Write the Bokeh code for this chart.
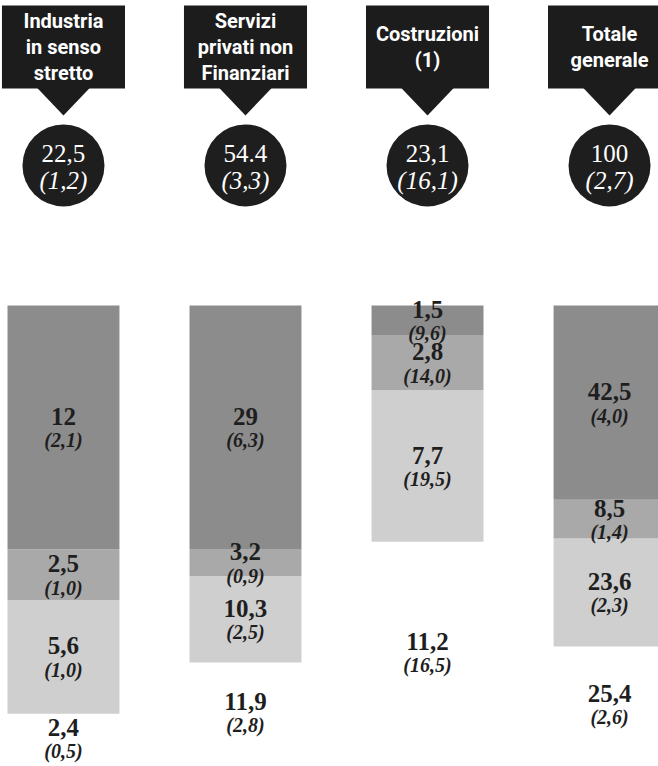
from bokeh.plotting import figure
from bokeh.models import ColumnDataSource, Range1d
from bokeh.embed import file_html
from bokeh.resources import INLINE
from bokeh.core.properties import value

# ---- data ----
categories = ["Industria\nin senso\nstretto", "Servizi\nprivati non\nFinanziari",
              "Costruzioni\n(1)", "Totale\ngenerale"]
total_labels = ["22,5", "54.4", "23,1", "100"]
total_change_labels = ["(1,2)", "(3,3)", "(16,1)", "(2,7)"]

# stacked components, bottom to top
seg1 = [2.4, 11.9, 11.2, 25.4]
chg1 = [0.5, 2.8, 16.5, 2.6]
seg2 = [5.6, 10.3, 7.7, 23.6]
chg2 = [1.0, 2.5, 19.5, 2.3]
seg3 = [2.5, 3.2, 2.8, 8.5]
chg3 = [1.0, 0.9, 14.0, 1.4]
seg4 = [12, 29, 1.5, 42.5]
chg4 = [2.1, 6.3, 9.6, 4.0]

segments = [seg1, seg2, seg3, seg4]
changes = [chg1, chg2, chg3, chg4]
seg_colors = ["#ffffff", "#cfcfcf", "#a9a9a9", "#8c8c8c"]

n = len(categories)
xs = list(range(n))

def fmt_val(v):
    return f"{v:g}".replace(".", ",")

def fmt_chg(v):
    return "(" + f"{v:.1f}".replace(".", ",") + ")"

col_totals = [sum(s[i] for s in segments) for i in range(n)]

W, H = 658, 766
p = figure(width=W, height=H, output_backend="svg", toolbar_location=None,
           x_range=Range1d(-0.346, 3.269), y_range=Range1d(-0.88, 166.74),
           min_border=0, min_border_left=0, min_border_right=0,
           min_border_top=0, min_border_bottom=0)
p.axis.visible = False
p.grid.visible = False
p.outline_line_color = None
p.background_fill_color = "white"
p.border_fill_color = "white"

serif = value("Liberation Serif")
sans = value("Roboto")

# ---- 100% stacked bars (bars first, labels on top) ----
cum = [0.0] * n
sources = []
for seg, chg, col in zip(segments, changes, seg_colors):
    shares = [seg[i] / col_totals[i] * 100 for i in range(n)]
    bottoms = cum[:]
    tops = [bottoms[i] + shares[i] for i in range(n)]
    mids = [(bottoms[i] + tops[i]) / 2 for i in range(n)]
    cum = tops
    src = ColumnDataSource(dict(x=xs, bottom=bottoms, top=tops, mid=mids,
                                vl=[fmt_val(v) for v in seg],
                                cl=[fmt_chg(v) for v in chg]))
    sources.append(src)
    p.vbar(x="x", bottom="bottom", top="top", width=0.615, source=src,
           fill_color=col, line_color=None)

for src in sources:
    p.text(x="x", y="mid", text="vl", source=src, text_font=serif,
           text_font_style="bold", text_font_size="25px", text_color="#1e1e1e",
           text_align="center", text_baseline="middle", y_offset=-11)
    p.text(x="x", y="mid", text="cl", source=src, text_font=serif,
           text_font_style="bold italic", text_font_size="20px", text_color="#1e1e1e",
           text_align="center", text_baseline="middle", y_offset=13)

# ---- header boxes with pointer ----
box_top, box_bottom = 165.65, 147.48
p.rect(x=xs, y=[(box_top + box_bottom) / 2] * n, width=0.676,
       height=box_top - box_bottom, fill_color="#1c1c1c", line_color=None)
tri_x = [[i - 0.148, i + 0.148, i] for i in xs]
tri_y = [[box_bottom + 0.3, box_bottom + 0.3, 141.58] for _ in xs]
p.patches(tri_x, tri_y, fill_color="#1c1c1c", line_color=None)

line_x, line_t, line_off = [], [], []
for i, cat in enumerate(categories):
    lines = cat.split("\n")
    for j, ln in enumerate(lines):
        line_x.append(i)
        line_t.append(ln)
        line_off.append((j - (len(lines) - 1) / 2) * 26)
lsrc = ColumnDataSource(dict(x=line_x, y=[156.67] * len(line_x), t=line_t, off=line_off))
p.text(x="x", y="y", text="t", source=lsrc, y_offset="off", text_font=sans,
       text_font_style="bold", text_font_size="20px", text_color="white",
       text_align="center", text_baseline="middle")

# ---- circles with totals ----
csrc = ColumnDataSource(dict(x=xs, y=[130.64] * n, t1=total_labels, t2=total_change_labels))
p.scatter(x="x", y="y", size=82, marker="circle", source=csrc,
          fill_color="#1e1e1e", line_color=None)
p.text(x="x", y="y", text="t1", source=csrc, text_font=serif, text_font_size="25px",
       text_color="white", text_align="center", text_baseline="middle", y_offset=-12)
p.text(x="x", y="y", text="t2", source=csrc, text_font=serif, text_font_style="italic",
       text_font_size="25px", text_color="white", text_align="center",
       text_baseline="middle", y_offset=15)

open("out.html", "w").write(file_html(p, INLINE))
